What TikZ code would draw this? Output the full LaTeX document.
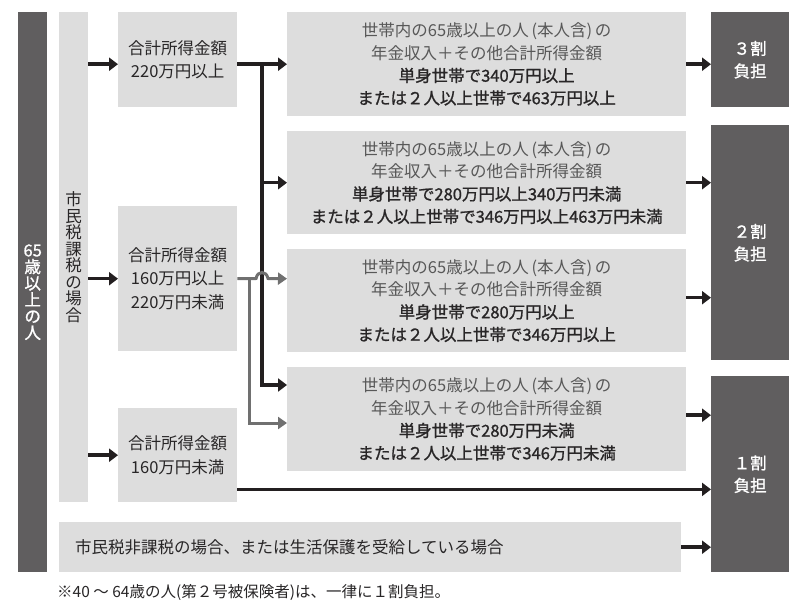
\documentclass[tikz,border=0pt]{standalone}
\usepackage{fontspec}
\setmainfont{Noto Sans CJK JP}
\newfontfamily\jpmed[FakeBold=1.1]{Noto Sans CJK JP}
\usetikzlibrary{arrows.meta,calc}
\definecolor{dbox}{RGB}{96,94,95}
\definecolor{lgray}{RGB}{221,221,221}
\definecolor{lineblk}{RGB}{35,31,32}
\definecolor{linegry}{RGB}{112,112,112}
\definecolor{txtdark}{RGB}{40,38,39}
\definecolor{txtgry}{RGB}{88,88,88}
\newcommand{\mline}[1]{{\jpmed #1}}
\begin{document}
\begin{tikzpicture}[x=1pt,y=-1pt,
  base/.style={draw=none, inner sep=0pt, anchor=north west, align=center},
  lbox/.style={base, fill=lgray, text=txtdark, font=\fontsize{16.5}{23.5}\selectfont},
  rbox/.style={base, fill=lgray, text=txtdark, font=\fontsize{16.5}{22.5}\selectfont},
  kbox/.style={base, fill=dbox, text=white, font=\jpmed\fontsize{16.5}{22.5}\selectfont},
  blkarr/.style={draw=lineblk, line width=3.5pt, line join=miter, -{Triangle[length=9pt,width=13pt]}},
  gryarr/.style={draw=linegry, line width=3pt, line join=miter, -{Triangle[length=9pt,width=12pt]}},
]
\fill[white] (0,0) rectangle (800,607);
\useasboundingbox (0,0) rectangle (800,607);

% left bars
\node[kbox, minimum width=29pt, minimum height=560pt, font=\jpmed\fontsize{16.5}{16.5}\selectfont] (age) at (18,12) {65\\歳\\以\\上\\の\\人};
\node[lbox, minimum width=29pt, minimum height=490pt, font=\fontsize{16.5}{16.5}\selectfont] (bar) at (59,12) {市\\民\\税\\課\\税\\の\\場\\合};

% income boxes
\node[lbox, minimum width=119pt, minimum height=95pt] (b1) at (118,12) {合計所得金額\\220万円以上};
\node[lbox, minimum width=119pt, minimum height=145pt] (b2) at (118,206) {合計所得金額\\160万円以上\\220万円未満};
\node[lbox, minimum width=119pt, minimum height=94pt] (b3) at (118,408) {合計所得金額\\160万円未満};

% condition boxes
\node[rbox, minimum width=399pt, minimum height=104pt] (A) at (287,12)
  {{\color{txtgry}世帯内の65歳以上の人\,(本人含)\,の}\\{\color{txtgry}年金収入＋その他合計所得金額}\\\mline{単身世帯で340万円以上}\\\mline{または２人以上世帯で463万円以上}};
\node[rbox, minimum width=399pt, minimum height=103pt] (B) at (287,131)
  {{\color{txtgry}世帯内の65歳以上の人\,(本人含)\,の}\\{\color{txtgry}年金収入＋その他合計所得金額}\\\mline{単身世帯で280万円以上340万円未満}\\\mline{または２人以上世帯で346万円以上463万円未満}};
\node[rbox, minimum width=399pt, minimum height=103pt] (C) at (287,249)
  {{\color{txtgry}世帯内の65歳以上の人\,(本人含)\,の}\\{\color{txtgry}年金収入＋その他合計所得金額}\\\mline{単身世帯で280万円以上}\\\mline{または２人以上世帯で346万円以上}};
\node[rbox, minimum width=399pt, minimum height=104pt] (D) at (287,367)
  {{\color{txtgry}世帯内の65歳以上の人\,(本人含)\,の}\\{\color{txtgry}年金収入＋その他合計所得金額}\\\mline{単身世帯で280万円未満}\\\mline{または２人以上世帯で346万円未満}};

% bottom box
\node[base, fill=lgray, text=txtdark, align=left, minimum height=50pt, text width=590pt, inner xsep=16pt, font=\fontsize{16.5}{20}\selectfont] (nb) at (59,522) {市民税非課税の場合、または生活保護を受給している場合};

% result boxes
\node[kbox, minimum width=78pt, minimum height=95pt] (K3) at (711,12) {３割\\負担};
\node[kbox, minimum width=78pt, minimum height=235pt] (K2) at (711,125) {２割\\負担};
\node[kbox, minimum width=78pt, minimum height=196pt] (K1) at (711,376) {１割\\負担};

% note
\node[anchor=west, inner sep=0pt, text=txtdark, font=\fontsize{15.5}{18}\selectfont] (note) at (57,592) {※40 ～ 64歳の人(第２号被保険者)は、一律に１割負担。};

% arrows from bar
\draw[blkarr] (bar.east |- A.west) -- (b1.west |- A.west);
\draw[blkarr] (bar.east |- b2.west) -- (b2.west);
\draw[blkarr] (bar.east |- b3.west) -- (b3.west);

% black connectors
\coordinate (jt) at (262,64);
\coordinate (jb) at (262,385);
\draw[blkarr] (b1.east |- A.west) -- (A.west);
\draw[blkarr] (jt) |- (B.west);
\draw[blkarr] (jt) |- (D.west |- jb);

% grey connectors with hop
\coordinate (gt) at (249,278.5);
\coordinate (gy) at (0,423);
\draw[gryarr] (b2.east) -- (256,278.5) .. controls (257.5,270.5) and (266.5,270.5) .. (268,278.5) -- (C.west |- b2.east);
\draw[gryarr] (gt) |- (D.west |- gy);

% bottom line
\coordinate (b3o) at ($(b3.south east)+(0,-13)$);
\draw[blkarr] (b3o) -- (K1.west |- b3o);

% to result boxes
\draw[blkarr] (A.east) -- (K3.west |- A.east);
\draw[blkarr] (B.east) -- (K2.west |- B.east);
\draw[blkarr] ($(C.east)+(0,-3)$) -- ($(K2.west |- C.east)+(0,-3)$);
\draw[blkarr] ($(D.east)+(0,-4)$) -- ($(K1.west |- D.east)+(0,-4)$);
\draw[blkarr] (nb.east) -- (K1.west |- nb.east);
\end{tikzpicture}
\end{document}
